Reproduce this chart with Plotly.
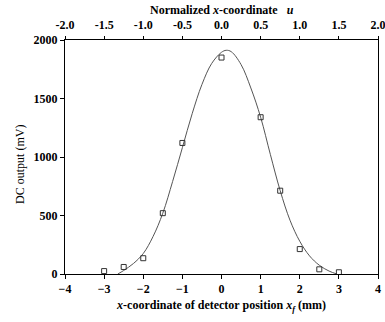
import plotly.graph_objects as go

# Measured data points
x_meas = [-3.0, -2.5, -2.0, -1.5, -1.0, 0.0, 1.0, 1.5, 2.0, 2.5, 3.0]
y_meas = [25, 60, 135, 520, 1120, 1850, 1340, 712, 213, 40, 15]

# Fitted curve
x_fit = [-2.65, -2.5, -2.25, -2.0, -1.75, -1.5, -1.25, -1.0, -0.75, -0.5, -0.25, 0.0, 0.12,
         0.25, 0.5, 0.75, 1.0, 1.25, 1.5, 1.75, 2.0, 2.25, 2.5, 2.75, 2.95]
y_fit = [0, 30, 90, 175, 320, 520, 790, 1080, 1370, 1620, 1800, 1895, 1912,
         1900, 1790, 1590, 1340, 1020, 712, 460, 280, 155, 75, 25, 0]

x_ticks = [-4, -3, -2, -1, 0, 1, 2, 3, 4]
u_ticks = [-2.0, -1.5, -1.0, -0.5, 0.0, 0.5, 1.0, 1.5, 2.0]
u_labels = ["-2.0", "-1.5", "-1.0", "-0.5", "0.0", "0.5", "1.0", "1.5", "2.0"]
y_ticks = [0, 500, 1000, 1500, 2000]

FONT = "Liberation Serif"

fig = go.Figure()
fig.add_trace(go.Scatter(x=x_fit, y=y_fit, mode="lines", line_shape="spline",
                         line=dict(color="#555555", width=1), showlegend=False))
fig.add_trace(go.Scatter(x=x_meas, y=y_meas, mode="markers",
                         marker=dict(symbol="square-open", size=5, color="#333333",
                                     line=dict(width=1, color="#333333")),
                         showlegend=False))
# invisible trace to anchor the top axis
fig.add_trace(go.Scatter(x=[u_ticks[0], u_ticks[-1]], y=[0, 0], mode="markers",
                         marker=dict(opacity=0), xaxis="x2", showlegend=False,
                         hoverinfo="skip"))

tickfont = dict(family=FONT, size=12, color="black", weight="bold")
fig.update_layout(
    width=385, height=322,
    margin=dict(l=65, r=7, t=40, b=48),
    paper_bgcolor="white", plot_bgcolor="white",
    xaxis=dict(range=[-4, 4], tickvals=x_ticks, ticks="outside", ticklen=4,
               tickwidth=1, tickcolor="black", showline=True, linecolor="black",
               linewidth=1, mirror=False, showgrid=False, zeroline=False,
               tickfont=tickfont, automargin=False, ticklabeloverflow="allow",
               title=dict(text="<b><i>x</i>-coordinate of detector position <i>x<sub>f</sub></i> (mm)</b>",
                          font=dict(family=FONT, size=12, color="black"), standoff=5)),
    xaxis2=dict(range=[-2, 2], tickvals=u_ticks, ticktext=u_labels, overlaying="x",
                side="top", ticks="outside", ticklen=3, tickwidth=1, tickcolor="black",
                showline=True, linecolor="black", linewidth=1, showgrid=False,
                zeroline=False, tickfont=tickfont, automargin=False,
                ticklabelstandoff=2, ticklabeloverflow="allow"),
    yaxis=dict(range=[0, 2000], tickvals=y_ticks, ticks="outside", ticklen=4,
               tickwidth=1, tickcolor="black", showline=True, linecolor="black",
               linewidth=1, mirror=True, showgrid=False, zeroline=False,
               tickfont=tickfont, automargin=False),
    annotations=[
        dict(text="<b>Normalized <i>x</i>-coordinate   <i>u</i></b>", xref="paper", yref="paper",
             x=0.5, y=1.128, xanchor="center", yanchor="middle", showarrow=False,
             font=dict(family=FONT, size=12, color="black")),
        dict(text="DC output (mV)", xref="paper", yref="paper", x=0, y=0.466,
             xshift=-45, xanchor="center", yanchor="middle", textangle=-90, showarrow=False,
             font=dict(family=FONT, size=12, color="black")),
    ],
)

fig.write_html("out.html", config={"displayModeBar": False},
               post_script="document.body.style.margin='0';document.body.style.overflow='hidden';")
